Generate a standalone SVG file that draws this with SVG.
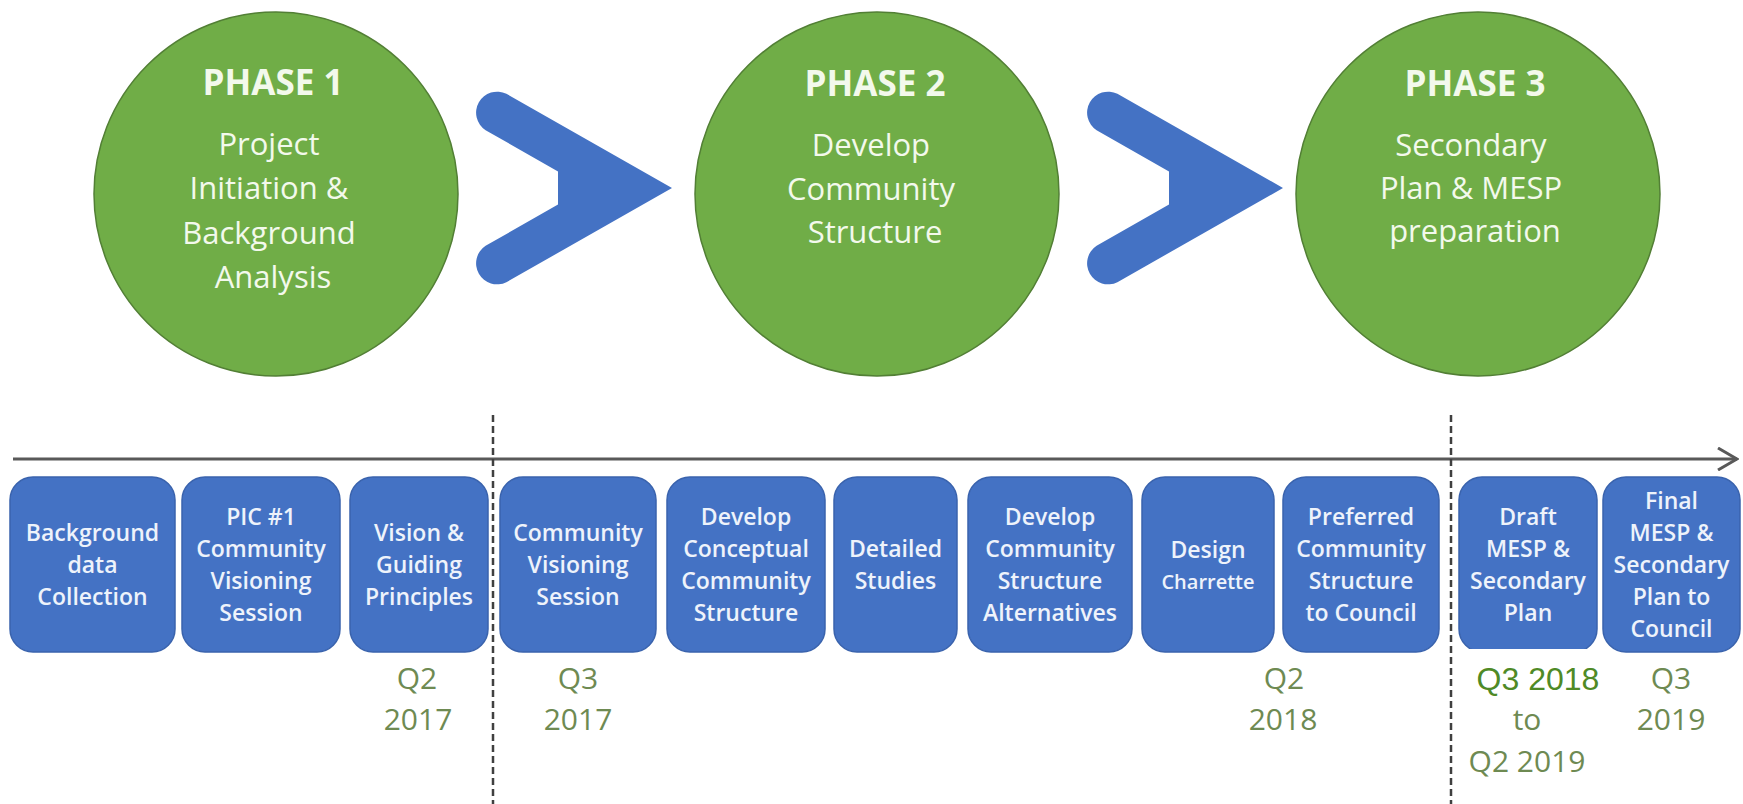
<svg xmlns="http://www.w3.org/2000/svg" width="1743" height="804" viewBox="0 0 1743 804">
  <style>
    .phase { fill: #70ad47; stroke: #527f35; stroke-width: 1.5; }
    .phase-title { font-family: "Open Sans", "Liberation Sans", sans-serif; font-weight: 700; font-size: 35px; fill: #f3f9ec; text-anchor: middle; }
    .phase-body { font-family: "Open Sans", "Liberation Sans", sans-serif; font-weight: 400; font-size: 31px; fill: #f3f9ec; text-anchor: middle; }
    .chevron { fill: #4472c4; }
    .task { fill: #4472c4; stroke: #3a63ad; stroke-width: 1.5; }
    .task-label { font-family: "Open Sans", "Liberation Sans", sans-serif; font-weight: 600; font-size: 23px; fill: #eef3fb; text-anchor: middle; }
    .task-small { font-size: 20px; }
    .date { font-family: "Open Sans", "Liberation Sans", sans-serif; font-weight: 400; font-size: 30px; fill: #6e8a52; text-anchor: middle; }
    .date-bright { font-family: "Liberation Sans", Arial, sans-serif; font-size: 32px; fill: #4f8a26; text-anchor: middle; }
    .axis { stroke: #595959; stroke-width: 3; fill: none; }
    .divider { stroke: #404040; stroke-width: 2.5; stroke-dasharray: 7 4; fill: none; }
  </style>
  <defs>
    <marker id="axis-head" viewBox="0 0 22 24" refX="20" refY="12" markerWidth="22" markerHeight="24" markerUnits="userSpaceOnUse" orient="auto">
      <path d="M1 1 L20 12 L1 23" fill="none" stroke="#595959" stroke-width="3"/>
    </marker>
    <path id="chevron-shape" d="M506.4 93.8 L672 188 L506.4 282.2 A21 21 0 0 1 485.6 245.8 L558 204.6 L558 171.4 L485.6 130.2 A21 21 0 0 1 506.4 93.8 Z"/>
  </defs>

  <rect x="0" y="0" width="1743" height="804" fill="#ffffff"/>

  <!-- Phase circles -->
  <g id="phase1">
    <circle class="phase" cx="276" cy="194" r="182"/>
    <text class="phase-title" x="273" y="95">PHASE 1</text>
    <text class="phase-body">
      <tspan x="273" y="155">Project</tspan>
      <tspan x="273" y="199">Initiation &amp;</tspan>
      <tspan x="273" y="244">Background</tspan>
      <tspan x="273" y="288">Analysis</tspan>
    </text>
  </g>
  <g id="phase2">
    <circle class="phase" cx="877" cy="194" r="182"/>
    <text class="phase-title" x="875" y="96">PHASE 2</text>
    <text class="phase-body">
      <tspan x="875" y="156">Develop</tspan>
      <tspan x="875" y="200">Community</tspan>
      <tspan x="875" y="243">Structure</tspan>
    </text>
  </g>
  <g id="phase3">
    <circle class="phase" cx="1478" cy="194" r="182"/>
    <text class="phase-title" x="1475" y="96">PHASE 3</text>
    <text class="phase-body">
      <tspan x="1475" y="156">Secondary</tspan>
      <tspan x="1475" y="199">Plan &amp; MESP</tspan>
      <tspan x="1475" y="242">preparation</tspan>
    </text>
  </g>

  <!-- Connectors: chevrons between phases, timeline axis and phase dividers -->
  <g id="connectors">
    <use href="#chevron-shape" class="chevron"/>
    <use href="#chevron-shape" class="chevron" transform="translate(611 0)"/>
    <line class="axis" x1="13" y1="459" x2="1737" y2="459" marker-end="url(#axis-head)"/>
    <line class="divider" x1="493" y1="415" x2="493" y2="804"/>
    <line class="divider" x1="1451" y1="415" x2="1451" y2="804"/>
  </g>

  <!-- Task boxes -->
  <g id="task1">
    <rect class="task" x="10" y="477" width="165" height="175" rx="23"/>
    <text class="task-label"><tspan x="92.5" y="540.5">Background</tspan><tspan x="92.5" y="572.5">data</tspan><tspan x="92.5" y="604.5">Collection</tspan></text>
  </g>
  <g id="task2">
    <rect class="task" x="182" y="477" width="158" height="175" rx="23"/>
    <text class="task-label"><tspan x="261" y="524.5">PIC #1</tspan><tspan x="261" y="556.5">Community</tspan><tspan x="261" y="588.5">Visioning</tspan><tspan x="261" y="620.5">Session</tspan></text>
  </g>
  <g id="task3">
    <rect class="task" x="350" y="477" width="138" height="175" rx="23"/>
    <text class="task-label"><tspan x="419" y="540.5">Vision &amp;</tspan><tspan x="419" y="572.5">Guiding</tspan><tspan x="419" y="604.5">Principles</tspan></text>
  </g>
  <g id="task4">
    <rect class="task" x="500" y="477" width="156" height="175" rx="23"/>
    <text class="task-label"><tspan x="578" y="540.5">Community</tspan><tspan x="578" y="572.5">Visioning</tspan><tspan x="578" y="604.5">Session</tspan></text>
  </g>
  <g id="task5">
    <rect class="task" x="667" y="477" width="158" height="175" rx="23"/>
    <text class="task-label"><tspan x="746" y="524.5">Develop</tspan><tspan x="746" y="556.5">Conceptual</tspan><tspan x="746" y="588.5">Community</tspan><tspan x="746" y="620.5">Structure</tspan></text>
  </g>
  <g id="task6">
    <rect class="task" x="834" y="477" width="123" height="175" rx="23"/>
    <text class="task-label"><tspan x="895.5" y="556.5">Detailed</tspan><tspan x="895.5" y="588.5">Studies</tspan></text>
  </g>
  <g id="task7">
    <rect class="task" x="968" y="477" width="164" height="175" rx="23"/>
    <text class="task-label"><tspan x="1050" y="524.5">Develop</tspan><tspan x="1050" y="556.5">Community</tspan><tspan x="1050" y="588.5">Structure</tspan><tspan x="1050" y="620.5">Alternatives</tspan></text>
  </g>
  <g id="task8">
    <rect class="task" x="1142" y="477" width="132" height="175" rx="23"/>
    <text class="task-label"><tspan x="1208" y="558">Design</tspan><tspan class="task-small" x="1208" y="588.5">Charrette</tspan></text>
  </g>
  <g id="task9">
    <rect class="task" x="1283" y="477" width="156" height="175" rx="23"/>
    <text class="task-label"><tspan x="1361" y="524.5">Preferred</tspan><tspan x="1361" y="556.5">Community</tspan><tspan x="1361" y="588.5">Structure</tspan><tspan x="1361" y="620.5">to Council</tspan></text>
  </g>
  <g id="task10">
    <rect class="task" x="1459" y="477" width="138" height="175" rx="23"/>
    <text class="task-label"><tspan x="1528" y="524.5">Draft</tspan><tspan x="1528" y="556.5">MESP &amp;</tspan><tspan x="1528" y="588.5">Secondary</tspan><tspan x="1528" y="620.5">Plan</tspan></text>
    <!-- white backing panel under the first date line, trimming the box base -->
    <rect x="1456" y="649" width="169" height="84" fill="#ffffff"/>
  </g>
  <g id="task11">
    <rect class="task" x="1603" y="477" width="137" height="175" rx="23"/>
    <text class="task-label"><tspan x="1671.5" y="508.5">Final</tspan><tspan x="1671.5" y="540.5">MESP &amp;</tspan><tspan x="1671.5" y="572.5">Secondary</tspan><tspan x="1671.5" y="604.5">Plan to</tspan><tspan x="1671.5" y="636.5">Council</tspan></text>
  </g>

  <!-- Quarter labels -->
  <g id="dates">
    <text class="date"><tspan x="417" y="689">Q2</tspan><tspan x="418" y="730">2017</tspan></text>
    <text class="date"><tspan x="578" y="689">Q3</tspan><tspan x="578" y="730">2017</tspan></text>
    <text class="date"><tspan x="1284" y="689">Q2</tspan><tspan x="1283" y="730">2018</tspan></text>
    <text class="date-bright" x="1538" y="690">Q3 2018</text>
    <text class="date"><tspan x="1527" y="730">to</tspan><tspan x="1527" y="772">Q2 2019</tspan></text>
    <text class="date"><tspan x="1671" y="689">Q3</tspan><tspan x="1671" y="730">2019</tspan></text>
  </g>
</svg>
